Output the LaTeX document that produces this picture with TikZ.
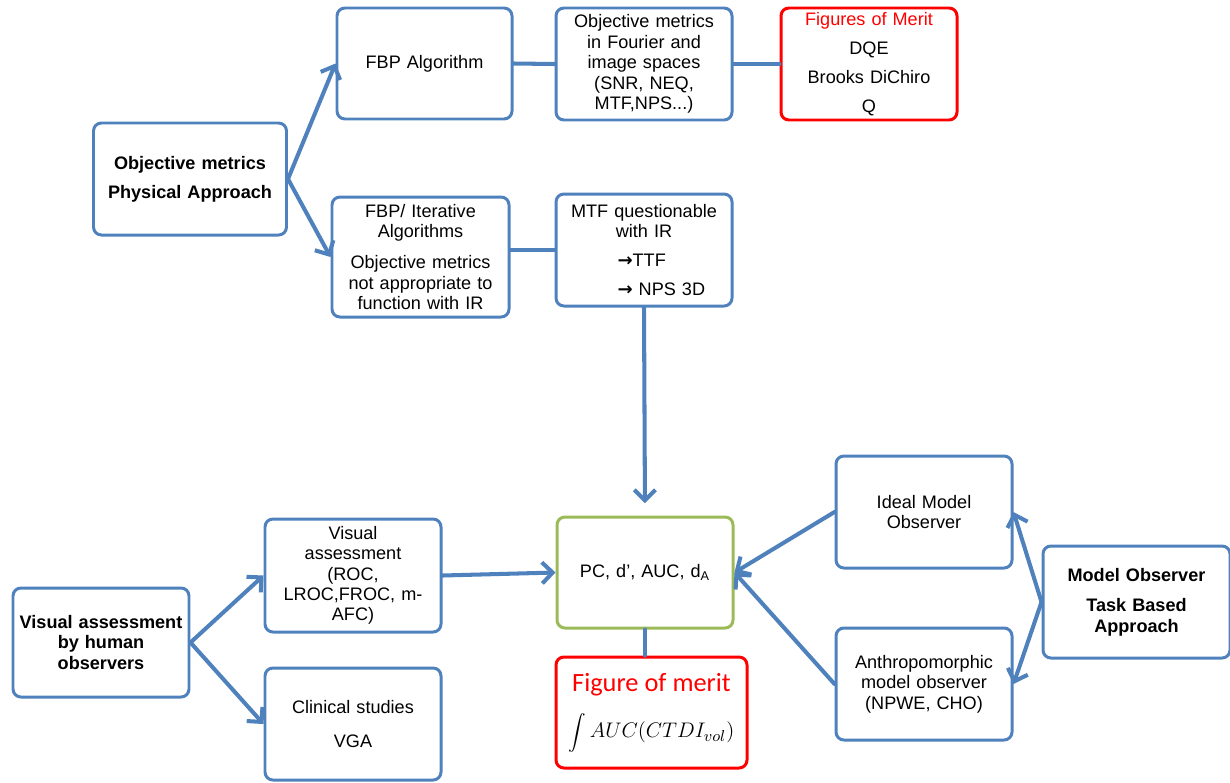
\documentclass[tikz,border=0pt]{standalone}
\usepackage{fontspec}
\setmainfont{Liberation Sans}
\newfontfamily\calib{Carlito}
\newfontfamily\symb{DejaVu Sans}
\usetikzlibrary{arrows.meta}
\definecolor{boxblue}{RGB}{79,129,189}
\definecolor{meritred}{RGB}{255,0,0}
\definecolor{pcgreen}{RGB}{155,187,89}
\newcommand{\tto}{{\symb\bfseries →}}
\begin{document}
\begin{tikzpicture}[font=\fontsize{10.3}{11.6}\selectfont, line join=round, line cap=round,
	box/.style={draw=boxblue, line width=1.7pt, rounded corners=4.5pt, align=center, inner sep=1pt,
		minimum width=3.52cm, minimum height=2.24cm, text width=3.4cm},
	redbox/.style={box, draw=meritred},
	greenbox/.style={box, draw=pcgreen},
	link/.style={draw=boxblue, line width=2.3pt},
	arr/.style={link, -{Straight Barb[length=6pt,width=12pt]}}]
	\useasboundingbox (0,0) rectangle (24.6,-15.64);
	% physical approach
	\node[box, minimum width=3.86cm, text width=3.7cm] (obj) at (3.80,-3.58) {\textbf{Objective metrics}\\[5pt]\textbf{Physical Approach}};
	\node[box, minimum width=3.5cm, minimum height=2.22cm] (fbp) at (8.49,-1.27) {FBP Algorithm};
	\node[box] (four) at (12.88,-1.28) {Objective metrics\\in Fourier and\\image spaces\\(SNR, NEQ,\\MTF,NPS...)};
	\node[redbox] (fom) at (17.38,-1.28) {\textcolor{meritred}{Figures of Merit}\\[5pt]DQE\\[5pt]Brooks DiChiro\\[5pt]Q};
	\node[box, minimum width=3.54cm, minimum height=2.4cm] (fbpit) at (8.41,-5.14) {FBP/ Iterative\\Algorithms\\[6pt]Objective metrics\\not appropriate to\\function with IR};
	\node[box] (mtf) at (12.88,-5.0) {MTF questionable\\with IR\\[5pt]\makebox[3.4cm][l]{\hspace{1.17cm}\tto TTF}\\[5pt]\makebox[3.4cm][l]{\hspace{1.17cm}\tto\ NPS 3D}};
	% human observers
	\node[box, minimum height=2.18cm] (human) at (2.02,-12.85) {\textbf{Visual assessment}\\\textbf{by human}\\\textbf{observers}};
	\node[box, minimum height=2.26cm] (visass) at (7.06,-11.51) {Visual\\assessment\\(ROC,\\LROC,FROC, m-\\AFC)};
	\node[box] (clin) at (7.06,-14.48) {Clinical studies\\[8pt]VGA};
	% figures of merit
	\node[greenbox, minimum height=2.22cm] (pc) at (12.9,-11.45) {PC, d', AUC, d\textsubscript{A}};
	\node[redbox, minimum width=3.82cm, minimum height=2.22cm, text width=3.7cm] (figm) at (13.03,-14.25)
		{{\calib\fontsize{15}{17}\selectfont\textcolor{meritred}{Figure of merit}}\\[9pt]{\fontsize{13}{15}\selectfont$\displaystyle\int AUC(CTDI_{vol})$}};
	% model observers
	\node[box] (ideal) at (18.48,-10.24) {Ideal Model\\Observer};
	\node[box] (anthro) at (18.48,-13.68) {Anthropomorphic\\model observer\\(NPWE, CHO)};
	\node[box, minimum width=3.74cm, text width=3.6cm] (model) at (22.73,-12.04) {\textbf{Model Observer}\\[6pt]\textbf{Task Based}\\\textbf{Approach}};
	% connectors
	\draw[arr] (obj.east) -- (fbp.west);
	\draw[arr] (obj.east) -- (fbpit.west);
	\draw[link] (fbp.east) -- (four.west);
	\draw[link] (four.east) -- (fom.west);
	\draw[link] (fbpit.east |- mtf.west) -- (mtf.west);
	\draw[arr, shorten >=7pt] (mtf.south) -- (pc.north);
	\draw[arr] (human.east) -- (visass.west);
	\draw[arr] (human.east) -- (clin.west);
	\draw[arr] (visass.east) -- (pc.west);
	\draw[link] (pc.south) -- (pc.south |- figm.north);
	\draw[arr] (ideal.west) -- (pc.east);
	\draw[arr] (anthro.west) -- (pc.east);
	\draw[arr] (model.west) -- (ideal.east);
	\draw[arr] (model.west) -- (anthro.east);
\end{tikzpicture}
\end{document}
